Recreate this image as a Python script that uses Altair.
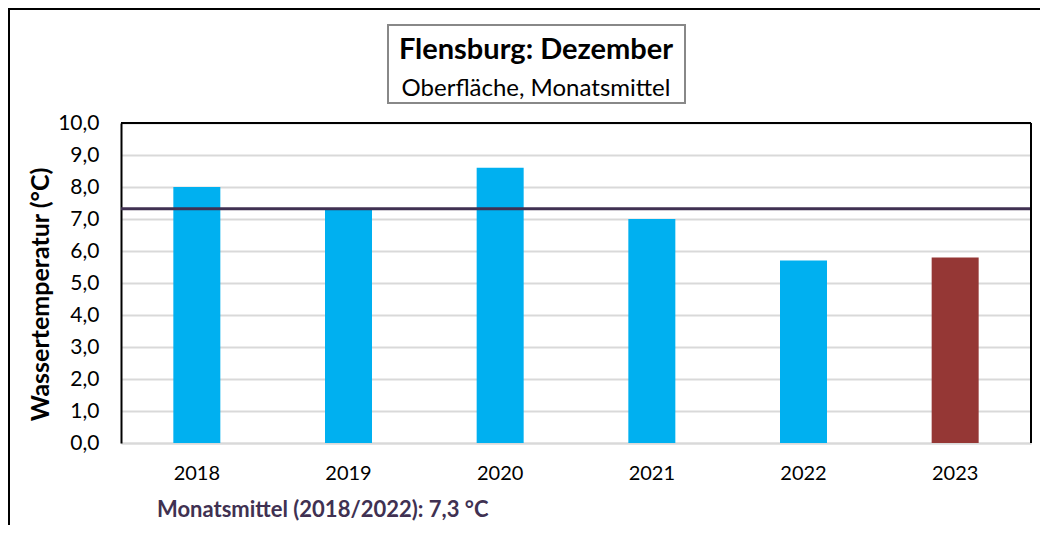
import altair as alt
import pandas as pd

# ---- data ----
years = ["2018", "2019", "2020", "2021", "2022", "2023"]
temps = [8.0, 7.3, 8.6, 7.0, 5.7, 5.8]
kinds = ["Vorjahre", "Vorjahre", "Vorjahre", "Vorjahre", "Vorjahre", "Aktuell"]
mean_value = 7.32
title_text = "Flensburg: Dezember"
subtitle_text = "Oberfläche, Monatsmittel"
mean_label = "Monatsmittel (2018/2022): 7,3 °C"
y_title = "Wassertemperatur (°C)"
y_ticks = [0, 1, 2, 3, 4, 5, 6, 7, 8, 9, 10]

df = pd.DataFrame({"Jahr": years, "Temp": temps, "Art": kinds})

W, H = 910, 320
FONT = "Lato"

one = alt.Data(values=[{}])

y_axis = alt.Axis(
    values=y_ticks,
    tickCount=20,
    labelExpr="replace(format(datum.value, '.1f'), '.', ',')",
    labelOverlap=False,
    ticks=False, domainColor="#000000", domainWidth=2,
    gridColor="#d9d9d9", gridWidth=2,
    labelFont=FONT, labelFontSize=21, labelColor="#000000", labelPadding=22,
    title=y_title, titleFont=FONT, titleFontSize=25, titleFontWeight="bold",
    titleColor="#000000", titleAngle=270, titleX=-81, titleY=171,
    titleAlign="center", titleBaseline="middle",
)

x_enc = alt.X(
    "Jahr:N",
    sort=years,
    title=None,
    scale=alt.Scale(paddingInner=0, paddingOuter=0),
    axis=alt.Axis(
        labelAngle=0, ticks=False, domainColor="#d9d9d9", domainWidth=2,
        labelFont=FONT, labelFontSize=20, labelColor="#000000", labelPadding=20,
    ),
)

y_enc = alt.Y("Temp:Q", scale=alt.Scale(domain=[0, 10], nice=False), axis=y_axis)

bars = alt.Chart(df).mark_bar(size=47).encode(
    x=x_enc,
    y=y_enc,
    color=alt.Color("Art:N", scale=alt.Scale(domain=["Vorjahre", "Aktuell"],
                                             range=["#00b0f0", "#953735"]), legend=None),
)

mean_rule = alt.Chart(alt.Data(values=[{"Temp": mean_value}])).mark_rule(
    color="#403152", strokeWidth=3
).encode(y=alt.Y("Temp:Q", scale=alt.Scale(domain=[0, 10], nice=False), axis=y_axis))

top_border = alt.Chart(one).mark_rule(color="#000000", strokeWidth=2).encode(y=alt.value(0))
right_border = alt.Chart(one).mark_rule(color="#000000", strokeWidth=2).encode(x=alt.value(W))

outer_frame = alt.Chart(one).mark_rect(fill=None, stroke="#000000", strokeWidth=2).encode(
    x=alt.value(-112), x2=alt.value(1000), y=alt.value(-114), y2=alt.value(600)
)

title_box = alt.Chart(one).mark_rect(fill="#ffffff", stroke="#888888", strokeWidth=2).encode(
    x=alt.value(267), x2=alt.value(564), y=alt.value(-98), y2=alt.value(-20)
)

title_mark = alt.Chart(one).mark_text(
    text=title_text, font=FONT, fontSize=29, fontWeight="bold", color="#000000",
    align="center", baseline="alphabetic",
).encode(x=alt.value(415), y=alt.value(-64))

subtitle_mark = alt.Chart(one).mark_text(
    text=subtitle_text, font=FONT, fontSize=24, color="#000000",
    align="center", baseline="alphabetic",
).encode(x=alt.value(415), y=alt.value(-27))

mean_text = alt.Chart(one).mark_text(
    text=mean_label, font=FONT, fontSize=22, fontWeight="bold", color="#403152",
    align="left", baseline="alphabetic",
).encode(x=alt.value(36), y=alt.value(394))

chart = alt.layer(
    outer_frame, bars, mean_rule, top_border, right_border,
    title_box, title_mark, subtitle_mark, mean_text,
).properties(
    width=W, height=H,
    autosize=alt.AutoSizeParams(type="none"),
    padding={"left": 113, "top": 115, "right": 9, "bottom": 82},
    background="#ffffff",
).configure_view(stroke=None)

chart.save("out.html", embed_options={"renderer": "svg", "actions": False})
